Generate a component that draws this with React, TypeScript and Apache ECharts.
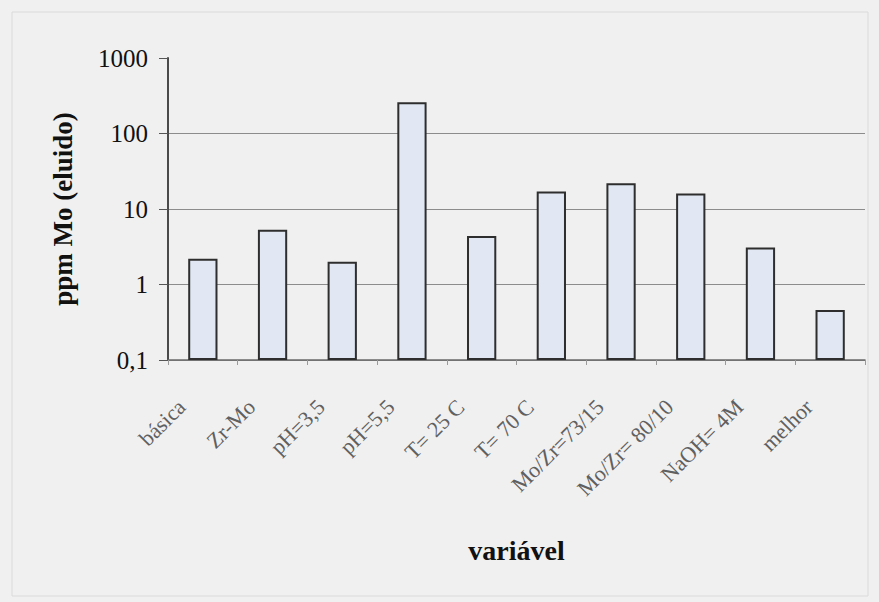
import React, { useEffect, useRef } from "react";
import * as echarts from "echarts";

// Category labels along the x axis
const categories = [
  "básica",
  "Zr-Mo",
  "pH=3,5",
  "pH=5,5",
  "T= 25 C",
  "T= 70 C",
  "Mo/Zr=73/15",
  "Mo/Zr= 80/10",
  "NaOH= 4M",
  "melhor",
];

// Eluted molybdenum concentration (ppm) per variable
const moEluted = [2.2, 5.3, 2.0, 260, 4.4, 17, 22, 16, 3.1, 0.46];

// Log-scale bounds of the value axis
const yMin = 0.1;
const yMax = 1000;

const xAxisTitle = "variável";
const yAxisTitle = "ppm Mo (eluido)";

const serif = "'Liberation Serif', 'Times New Roman', serif";

export default function App() {
  const ref = useRef<HTMLDivElement>(null);

  useEffect(() => {
    if (!ref.current) return;
    const chart = echarts.init(ref.current, undefined, { renderer: "svg" });
    chart.setOption({
      animation: false,
      backgroundColor: "#f0f0f0",
      graphic: [
        {
          type: "rect",
          shape: { x: 12, y: 12, width: 856, height: 584 },
          style: { fill: "none", stroke: "#dadada", lineWidth: 1 },
          silent: true,
        },
      ],
      grid: { left: 168, right: 14, top: 58, bottom: 242, containLabel: false },
      xAxis: {
        type: "category",
        data: categories,
        name: xAxisTitle,
        nameLocation: "middle",
        nameGap: 176,
        nameTextStyle: {
          fontFamily: serif,
          fontWeight: "bold",
          fontSize: 28,
          color: "#111",
        },
        axisLine: { lineStyle: { color: "#6a6a6a", width: 1.5 } },
        axisTick: { show: true, length: 5, lineStyle: { color: "#9a9a9a" } },
        axisLabel: {
          rotate: 45,
          margin: 22,
          padding: [0, 30, 0, 0],
          interval: 0,
          fontFamily: serif,
          fontSize: 22,
          color: "#606060",
        },
        splitLine: { show: false },
      },
      yAxis: {
        type: "log",
        logBase: 10,
        min: yMin,
        max: yMax,
        startValue: yMin,
        name: yAxisTitle,
        nameLocation: "middle",
        nameGap: 92,
        nameTextStyle: {
          fontFamily: serif,
          fontWeight: "bold",
          fontSize: 27,
          color: "#111",
        },
        axisLine: { show: true, lineStyle: { color: "#4a4a4a", width: 2 } },
        axisTick: { show: true, length: 9, lineStyle: { color: "#555" } },
        axisLabel: {
          margin: 20,
          fontFamily: serif,
          fontSize: 25,
          color: "#111",
          formatter: (v: number) => String(v).replace(".", ","),
        },
        splitLine: {
          show: true,
          showMaxLine: false,
          lineStyle: { color: "#8c8c8c", width: 1 },
        },
      },
      series: [
        {
          type: "bar",
          data: moEluted,
          barWidth: "42%",
          itemStyle: {
            color: "#e1e8f3",
            borderColor: "#2e2e2e",
            borderWidth: 2,
          },
        },
      ],
    });
    return () => chart.dispose();
  }, []);

  return (
    <div
      ref={ref}
      style={{ position: "absolute", left: 0, top: 0, width: 879, height: 602 }}
    />
  );
}
